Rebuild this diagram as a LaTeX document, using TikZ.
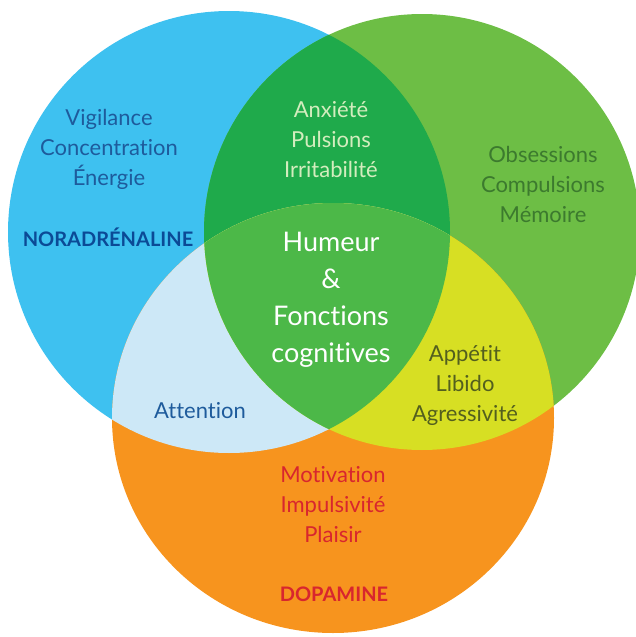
\documentclass[tikz,border=0pt]{standalone}
\usepackage{fontspec}
\setmainfont{Lato}[Ligatures=NoCommon]

\definecolor{bleuNor}{HTML}{3EC1F0}
\definecolor{vertSer}{HTML}{6DBE45}
\definecolor{orangeDopa}{HTML}{F7941E}
\definecolor{vertFonce}{HTML}{1FAA4B}
\definecolor{vertCentre}{HTML}{4CB848}
\definecolor{bleuPale}{HTML}{CDE8F7}
\definecolor{jauneVert}{HTML}{D7DF23}
\definecolor{texteBleu}{HTML}{1E5B9C}
\definecolor{titreBleu}{HTML}{0B4A96}
\definecolor{textePale}{HTML}{D3EDBE}
\definecolor{texteVert}{HTML}{3C7A2E}
\definecolor{texteOlive}{HTML}{535F1E}
\definecolor{texteRouge}{HTML}{D8262E}

\begin{document}
\begin{tikzpicture}[
    x=1pt, y=-1pt,
    liste/.style={align=center, inner sep=0pt, font=\fontsize{22}{30}\selectfont},
    titre/.style={align=center, inner sep=0pt, font=\fontsize{20}{22}\selectfont\bfseries},
    centre/.style={align=center, inner sep=0pt, text=white, font=\fontsize{27}{37}\selectfont}
]
\useasboundingbox (0,0) rectangle (636,637);

% Centres des cercles
\coordinate (nor) at (229,232);
\coordinate (ser) at (422,232);
\coordinate (dopa) at (333,418);

% Cercles
\fill[bleuNor] (nor) circle[radius=221pt];
\fill[vertSer] (ser) circle[radius=218pt];
\fill[orangeDopa] (dopa) ellipse[x radius=221pt, y radius=215pt];

% Intersections
\begin{scope}
    \clip (nor) circle[radius=221pt];
    \fill[vertFonce] (ser) circle[radius=218pt];
    \fill[bleuPale] (dopa) ellipse[x radius=221pt, y radius=215pt];
\end{scope}
\begin{scope}
    \clip (ser) circle[radius=218pt];
    \fill[jauneVert] (dopa) ellipse[x radius=221pt, y radius=215pt];
    \clip (nor) circle[radius=221pt];
    \fill[vertCentre] (dopa) ellipse[x radius=221pt, y radius=215pt];
\end{scope}

% Textes
\node[liste, text=texteBleu] (vigilance) at (109,149) {Vigilance\\Concentration\\Énergie};
\node[titre, text=titreBleu] (noradr) at (108,237) {NORADRÉNALINE};
\node[liste, text=textePale] (anxiete) at (331,140) {Anxiété\\Pulsions\\Irritabilité};
\node[liste, text=texteVert] (obsessions) at (543,184) {Obsessions\\Compulsions\\Mémoire};
\node[centre] (humeur) at (331,300) {Humeur\\\&\\Fonctions\\cognitives};
\node[liste, text=texteOlive] (appetit) at (465,385) {Appétit\\Libido\\Agressivité};
\node[liste, text=texteBleu] (attention) at (200,411) {Attention};
\node[liste, text=texteRouge] (motivation) at (333,505) {Motivation\\Impulsivité\\Plaisir};
\node[titre, text=texteRouge] (dopamine) at (334,594) {DOPAMINE};

\end{tikzpicture}
\end{document}
